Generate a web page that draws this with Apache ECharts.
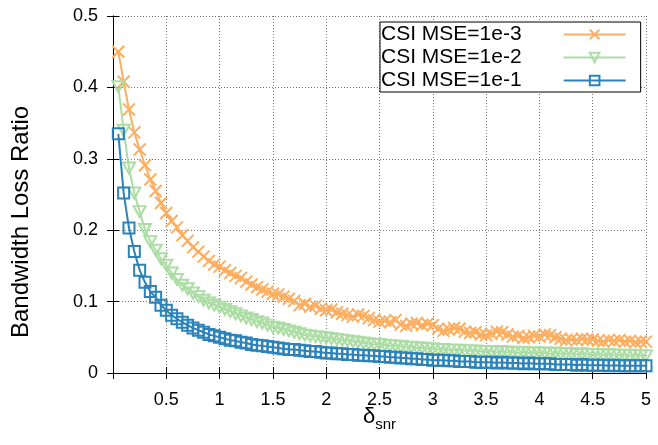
<!DOCTYPE html>
<html>
<head>
<meta charset="utf-8">
<script src="https://cdn.jsdelivr.net/npm/echarts@6/dist/echarts.min.js"></script>
<style>
html,body{margin:0;padding:0;background:#fff;}
#main{width:658px;height:445px;}
</style>
</head>
<body>
<div id="main"></div>
<script>
// delta_snr values, one point every 0.05
let xs=[0.05,0.10,0.15,0.20,0.25,0.30,0.35,0.40,0.45,0.50,
	0.55,0.60,0.65,0.70,0.75,0.80,0.85,0.90,0.95,1.00,
	1.05,1.10,1.15,1.20,1.25,1.30,1.35,1.40,1.45,1.50,
	1.55,1.60,1.65,1.70,1.75,1.80,1.85,1.90,1.95,2.00,
	2.05,2.10,2.15,2.20,2.25,2.30,2.35,2.40,2.45,2.50,
	2.55,2.60,2.65,2.70,2.75,2.80,2.85,2.90,2.95,3.00,
	3.05,3.10,3.15,3.20,3.25,3.30,3.35,3.40,3.45,3.50,
	3.55,3.60,3.65,3.70,3.75,3.80,3.85,3.90,3.95,4.00,
	4.05,4.10,4.15,4.20,4.25,4.30,4.35,4.40,4.45,4.50,
	4.55,4.60,4.65,4.70,4.75,4.80,4.85,4.90,4.95,5.00];
let mse3=[0.450,0.408,0.369,0.337,0.313,0.291,0.271,0.255,0.238,0.224,
	0.213,0.204,0.193,0.185,0.176,0.170,0.163,0.157,0.152,0.149,
	0.144,0.140,0.136,0.133,0.128,0.124,0.120,0.117,0.114,0.111,
	0.110,0.107,0.104,0.101,0.095,0.097,0.093,0.094,0.090,0.088,
	0.089,0.085,0.083,0.081,0.079,0.082,0.080,0.077,0.074,0.072,
	0.073,0.071,0.074,0.068,0.066,0.069,0.070,0.067,0.069,0.067,
	0.062,0.059,0.061,0.063,0.062,0.058,0.056,0.057,0.054,0.053,
	0.055,0.058,0.057,0.054,0.051,0.052,0.049,0.050,0.052,0.051,
	0.054,0.053,0.050,0.048,0.046,0.047,0.046,0.048,0.047,0.047,
	0.045,0.044,0.046,0.045,0.046,0.044,0.045,0.043,0.044,0.044];
let mse2=[0.401,0.340,0.287,0.252,0.226,0.201,0.184,0.172,0.160,0.151,
	0.140,0.131,0.123,0.118,0.112,0.107,0.102,0.098,0.095,0.092,
	0.089,0.086,0.083,0.080,0.077,0.075,0.072,0.070,0.067,0.064,
	0.063,0.061,0.059,0.057,0.055,0.053,0.052,0.051,0.050,0.049,
	0.048,0.047,0.046,0.045,0.044,0.043,0.042,0.041,0.040,0.040,
	0.039,0.038,0.038,0.037,0.036,0.036,0.035,0.035,0.034,0.034,
	0.033,0.033,0.032,0.032,0.032,0.031,0.031,0.031,0.030,0.030,
	0.030,0.029,0.030,0.029,0.029,0.028,0.029,0.028,0.028,0.028,
	0.028,0.027,0.028,0.027,0.027,0.027,0.026,0.027,0.026,0.026,
	0.026,0.025,0.026,0.025,0.025,0.025,0.024,0.025,0.024,0.024];
let mse1=[0.335,0.252,0.203,0.170,0.144,0.127,0.114,0.106,0.095,0.088,
	0.081,0.076,0.071,0.067,0.063,0.060,0.057,0.054,0.052,0.050,
	0.048,0.046,0.045,0.043,0.042,0.040,0.039,0.038,0.037,0.036,
	0.035,0.034,0.033,0.033,0.032,0.031,0.030,0.030,0.029,0.028,
	0.028,0.027,0.027,0.026,0.026,0.025,0.025,0.024,0.024,0.023,
	0.023,0.022,0.022,0.021,0.021,0.020,0.020,0.019,0.019,0.018,
	0.018,0.018,0.017,0.017,0.016,0.016,0.016,0.015,0.015,0.015,
	0.015,0.014,0.015,0.014,0.014,0.014,0.013,0.014,0.013,0.013,
	0.013,0.013,0.012,0.012,0.012,0.012,0.011,0.012,0.011,0.011,
	0.011,0.011,0.010,0.011,0.010,0.010,0.010,0.010,0.010,0.010];
let names=["CSI MSE=1e-3","CSI MSE=1e-2","CSI MSE=1e-1"];

let font="Liberation Sans";
function pairs(ys){
	return xs.map(function(x,i){return [x,ys[i]];});
}
function mkSeries(name,ys,color,symbol,size,rotate){
	return {
		name:name,
		type:'line',
		data:pairs(ys),
		symbol:symbol,
		symbolSize:size,
		symbolRotate:rotate||0,
		lineStyle:{color:color,width:2},
		itemStyle:{color:'rgba(0,0,0,0)',borderColor:color,borderWidth:2},
		emphasis:{disabled:true}
	};
}
let gridLine={show:true,lineStyle:{color:'#777',type:[1,2],width:1}};
let boxLine={show:true,lineStyle:{color:'#000',width:1}};

var myChart=echarts.init(document.querySelector("#main"));
let option={
	animation:false,
	textStyle:{fontFamily:font,color:'#000'},
	grid:{left:113,right:12,top:16,bottom:72},
	legend:{
		left:380,
		top:22,
		orient:'vertical',
		align:'right',
		data:names,
		itemWidth:62,
		itemHeight:12,
		itemGap:0,
		padding:[1,14,0,1],
		borderColor:'#000',
		borderWidth:1,
		backgroundColor:'#fff',
		textStyle:{fontFamily:font,fontSize:21,color:'#000',lineHeight:23,padding:[0,37,0,0]}
	},
	xAxis:[{
		type:'value',
		min:0,max:5,interval:0.5,
		name:'{d|δ}{s|snr}',
		nameLocation:'middle',
		nameGap:33,
		nameMoveOverlap:false,
		nameTextStyle:{
			rich:{
				d:{fontFamily:font,fontSize:22,color:'#000',lineHeight:26,verticalAlign:'top'},
				s:{fontFamily:font,fontSize:15,color:'#000',lineHeight:26,verticalAlign:'bottom',padding:[8,0,0,0]}
			}
		},
		axisLine:boxLine,
		axisTick:{show:true,inside:true,length:6,lineStyle:{color:'#000'}},
		axisLabel:{fontFamily:font,fontSize:18,color:'#000',margin:18,
			formatter:function(v){return v===0?'':String(v);}},
		splitLine:gridLine
	},{
		type:'value',position:'top',
		min:0,max:5,interval:0.5,
		axisLine:boxLine,
		axisTick:{show:true,inside:true,length:6,lineStyle:{color:'#000'}},
		axisLabel:{show:false},
		splitLine:{show:false}
	}],
	yAxis:[{
		type:'value',
		min:0,max:0.5,interval:0.1,
		name:'Bandwidth Loss Ratio',
		nameLocation:'middle',
		nameRotate:90,
		nameGap:80,
		nameTextStyle:{fontFamily:font,fontSize:24,color:'#000',padding:[0,55,0,0]},
		axisLine:boxLine,
		axisTick:{show:true,inside:true,length:6,lineStyle:{color:'#000'}},
		axisLabel:{fontFamily:font,fontSize:18,color:'#000',margin:15},
		splitLine:gridLine
	},{
		type:'value',position:'right',
		min:0,max:0.5,interval:0.1,
		axisLine:boxLine,
		axisTick:{show:true,inside:true,length:6,lineStyle:{color:'#000'}},
		axisLabel:{show:false},
		splitLine:{show:false}
	}],
	series:[
		mkSeries(names[0],mse3,'#fdae61','path://M0,0L12,12M12,0L0,12',12),
		mkSeries(names[1],mse2,'#abdda4','triangle',[12,11],180),
		mkSeries(names[2],mse1,'#2b83ba','rect',11)
	]
};
myChart.setOption(option);
</script>
</body>
</html>
